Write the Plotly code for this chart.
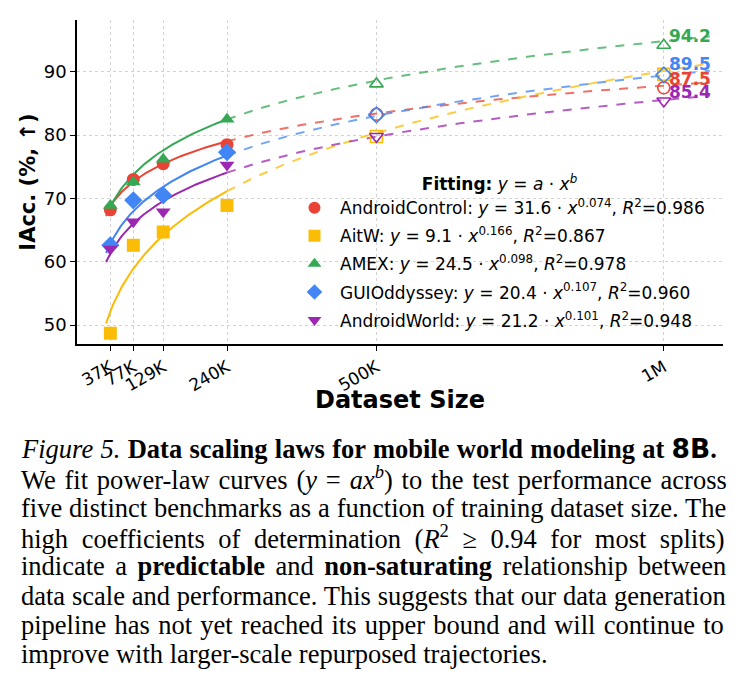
import numpy as np
import plotly.graph_objects as go

# ---------------- data ----------------
series_names = ["AndroidControl", "AitW", "AMEX", "GUIOddyssey", "AndroidWorld"]
series_colors = ["#EA4335", "#FBBC05", "#34A853", "#4285F4", "#9C27B0"]
series_symbols = ["circle", "square", "triangle-up", "diamond", "triangle-down"]

train_sizes = [37000, 77000, 129000, 240000]
acc_androidcontrol = [68.2, 73.0, 75.5, 78.5]
acc_aitw = [48.7, 62.6, 64.7, 68.9]
acc_amex = [68.9, 72.6, 76.2, 82.5]
acc_guiodyssey = [62.6, 69.7, 70.5, 77.3]
acc_androidworld = [62.0, 66.3, 67.9, 75.3]

pred_sizes = [500000, 1000000]
pred_androidcontrol = [83.3, 87.5]
pred_aitw = [79.8, 89.6]
pred_amex = [88.1, 94.2]
pred_guiodyssey = [83.2, 89.5]
pred_androidworld = [79.8, 85.4]

fit_a = [31.6, 9.1, 24.5, 20.4, 21.2]
fit_b = [0.074, 0.166, 0.098, 0.107, 0.101]
fit_r2 = [0.986, 0.867, 0.978, 0.960, 0.948]

x_tick_vals = [37000, 77000, 129000, 240000, 500000, 1000000]
x_tick_text = ["37K", "77K", "129K", "240K", "500K", "1M"]
y_tick_vals = [50, 60, 70, 80, 90]
end_labels = ["87.5", None, "94.2", "89.5", "85.4"]
end_label_shift = [9, 0, 9.5, 11.5, 9.5]

acc_all = [acc_androidcontrol, acc_aitw, acc_amex, acc_guiodyssey, acc_androidworld]
pred_all = [pred_androidcontrol, pred_aitw, pred_amex, pred_guiodyssey, pred_androidworld]

# ---------------- figure ----------------
W, H = 741, 688
L, R, T, B = 77, 18, 20, 344
PW, PH = W - L - R, H - T - B

def px2paper(xp, yp):
    return (xp - L) / PW, (H - B - yp) / PH

FONT = "DejaVu Sans"
fig = go.Figure()

def hexa(c, a):
    c = c.lstrip("#")
    return f"rgba({int(c[0:2],16)},{int(c[2:4],16)},{int(c[4:6],16)},{a})"

# fitted curves
for i, name in enumerate(series_names):
    a, b = fit_a[i], fit_b[i]
    xs = np.linspace(train_sizes[0] * 0.8, train_sizes[-1], 120)
    fig.add_trace(go.Scatter(x=xs, y=a * xs ** b, mode="lines",
                             line=dict(color=series_colors[i], width=2),
                             showlegend=False, hoverinfo="skip"))
    xd = np.linspace(train_sizes[-1], pred_sizes[-1] * 1.08, 120)
    fig.add_trace(go.Scatter(x=xd, y=a * xd ** b, mode="lines",
                             line=dict(color=hexa(series_colors[i], 0.75), width=2, dash="dash"),
                             showlegend=False, hoverinfo="skip"))

# predicted (hollow) markers
for i, name in enumerate(series_names):
    fig.add_trace(go.Scatter(x=pred_sizes, y=pred_all[i], mode="markers",
                             marker=dict(symbol=series_symbols[i] + "-open", size=12,
                                         color=series_colors[i], line=dict(width=1.6, color=series_colors[i])),
                             showlegend=False))

# observed markers (legend)
for i, name in enumerate(series_names):
    label = (f"{name}: <i>y</i> = {fit_a[i]} · <i>x</i><sup>{fit_b[i]:.3f}</sup>, "
             f"<i>R</i><sup>2</sup>={fit_r2[i]:.3f}")
    sz = 13 if series_symbols[i] != "diamond" else 14
    fig.add_trace(go.Scatter(x=train_sizes, y=acc_all[i], mode="markers", name=label,
                             legendgroup=name,
                             marker=dict(symbol=series_symbols[i], size=sz, color=series_colors[i],
                                         line=dict(width=0))))

# end labels
for i, name in enumerate(series_names):
    if end_labels[i]:
        fig.add_annotation(x=pred_sizes[-1], y=pred_all[i][-1], text=f"<b>{end_labels[i]}</b>",
                           showarrow=False, xanchor="left", yanchor="middle", xshift=3,
                           yshift=end_label_shift[i],
                           font=dict(family=FONT, size=17, color=series_colors[i]))

# x-axis title
tx, ty = px2paper(400, 400)
fig.add_annotation(xref="paper", yref="paper", x=tx, y=ty, text="<b>Dataset Size</b>",
                   showarrow=False, xanchor="center", yanchor="middle",
                   font=dict(family=FONT, size=24, color="black"))

# caption
caption_lines = [
    "<i>Figure 5.</i> <b>Data scaling laws for mobile world modeling at </b>"
    "<span style='font-family:DejaVu Sans'><b>8B</b></span><b>.</b>",
    "We fit power-law curves (<i>y</i> = <i>ax<sup>b</sup></i>) to the test performance across",
    "five distinct benchmarks as a function of training dataset size. The",
    "high coefficients of determination (<i>R</i><sup>2</sup> ≥ 0.94 for most splits)",
    "indicate a <b>predictable</b> and <b>non-saturating</b> relationship between",
    "data scale and performance. This suggests that our data generation",
    "pipeline has not yet reached its upper bound and will continue to",
    "improve with larger-scale repurposed trajectories.",
]
caption_wordspacing = [0.7, 2.2, 0.3, 6.9, 3.8, 0.2, 1.6, 0]
caption_y = [449, 478, 508, 537, 566, 596, 625, 654]
for line, ws, yp in zip(caption_lines, caption_wordspacing, caption_y):
    xp, ypp = px2paper(19, yp)
    fig.add_annotation(xref="paper", yref="paper", x=xp, y=ypp,
                       text=f"<span style='word-spacing:{ws}px'>{line}</span>", showarrow=False,
                       xanchor="left", yanchor="middle",
                       font=dict(family="Liberation Serif", size=26.5, color="black"))

fig.update_layout(
    width=W, height=H,
    margin=dict(l=L, r=R, t=T, b=B, pad=0),
    paper_bgcolor="white", plot_bgcolor="white",
    font=dict(family=FONT, size=16, color="black"),
    showlegend=True,
    legend=dict(x=px2paper(289, 0)[0], y=px2paper(0, 168)[1], xanchor="left", yanchor="top",
                bgcolor="rgba(0,0,0,0)", borderwidth=0,
                font=dict(family=FONT, size=17, color="black"),
                tracegroupgap=3, itemsizing="constant", itemwidth=41,
                title=dict(text="<b>Fitting:</b> <i>y</i> = <i>a</i> · <i>x<sup>b</sup></i>",
                           side="top center", font=dict(family=FONT, size=17))),
)
fig.update_xaxes(range=[-21000, 1103000], tickvals=x_tick_vals, ticktext=x_tick_text,
                 tickangle=-30, tickfont=dict(family=FONT, size=17),
                 showline=True, linecolor="black", linewidth=1.6, mirror=False,
                 ticks="outside", ticklen=5, tickwidth=1.2, tickcolor="black",
                 showgrid=True, gridcolor="#d3d3d3", griddash="dot", gridwidth=1, zeroline=False)
fig.update_yaxes(range=[47.0, 98.2], tickvals=y_tick_vals, tickfont=dict(family=FONT, size=18),
                 showline=True, linecolor="black", linewidth=1.6, mirror=False,
                 ticks="outside", ticklen=5, tickwidth=1.2, tickcolor="black",
                 showgrid=True, gridcolor="#d3d3d3", griddash="dot", gridwidth=1, zeroline=False,
                 title=dict(text="<b>IAcc. (%, ↑)</b>", font=dict(family=FONT, size=21), standoff=2))

fig.write_html("out.html")
